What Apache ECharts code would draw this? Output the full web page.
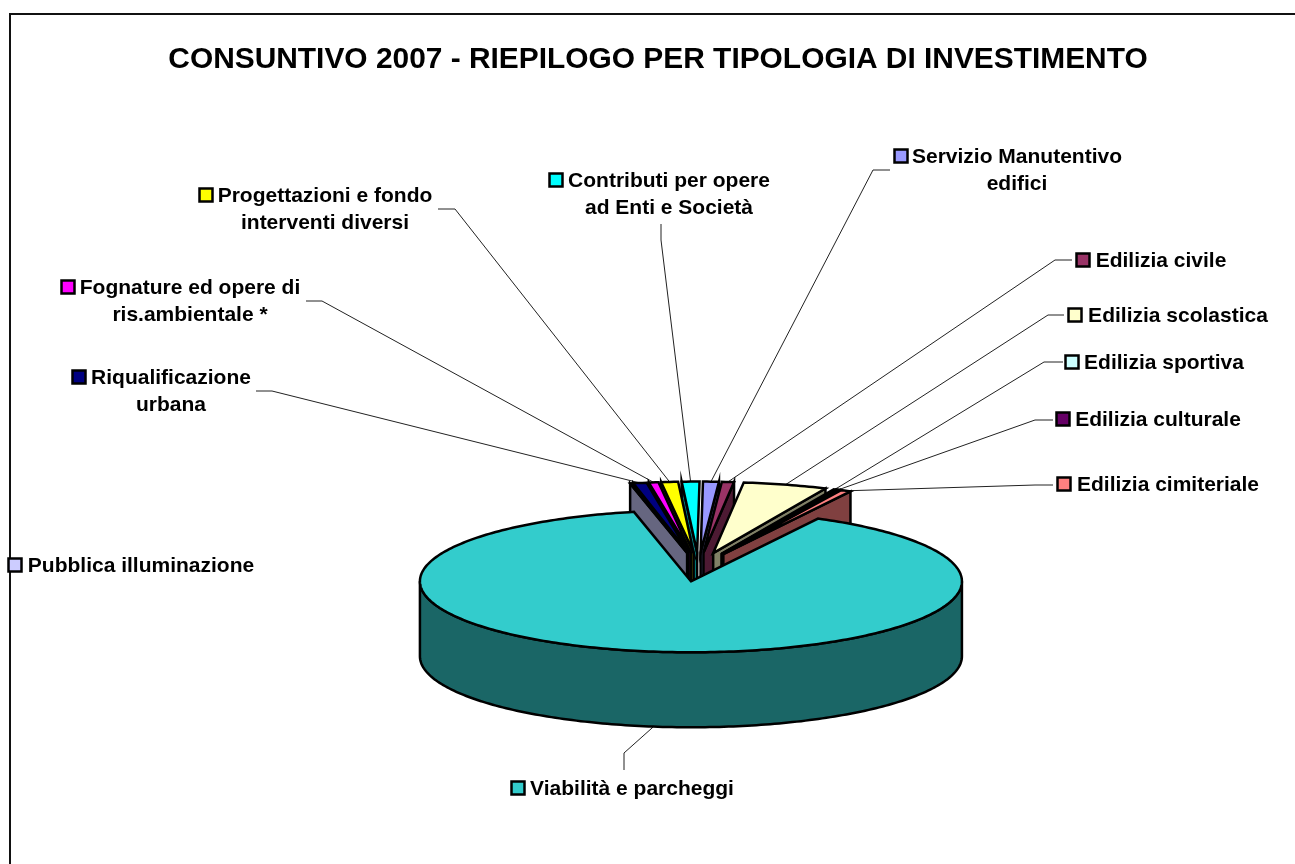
<!DOCTYPE html>
<html><head><meta charset="utf-8">
<style>html,body{margin:0;padding:0;background:#fff}#c{width:1295px;height:864px}</style>
<script src="https://cdn.jsdelivr.net/npm/echarts@6/dist/echarts.min.js"></script>
</head><body><div id="c"></div>
<script>
const titleText = 'CONSUNTIVO 2007 - RIEPILOGO PER TIPOLOGIA DI INVESTIMENTO';
// clockwise from just past 12 o'clock
const categories = ['Servizio Manutentivo\nedifici','Edilizia civile','Edilizia scolastica','Edilizia sportiva','Edilizia culturale','Edilizia cimiteriale','Viabilità e parcheggi','Pubblica illuminazione','Riqualificazione\nurbana','Fognature ed opere di\nris.ambientale *','Progettazioni e fondo\ninterventi diversi','Contributi per opere\nad Enti e Società'];
const values = [0.94,0.72,5.00,0.14,0.22,0.61,88.85,0.10,0.79,0.57,1.00,1.05];
const colors = ['#9999FF','#993366','#FFFFCC','#CCFFFF','#660066','#FF8080','#33CCCC','#CCCCFF','#000080','#FF00FF','#FFFF00','#00FFFF'];
// label layout: text centre x,y of first line, legend key centre x, leader elbow, leader end
const textX = [1017,1161,1178,1164,1158,1168,632,141,171,190,325,669];
const textY = [156,260,315,362,419,484,788,565,377,287,195,180];
const keyX = [901,1083,1075,1072,1063,1064,518,15,79,68,206,556];
const leaderElbow = [[873,170],[1055,260],[1048,315],[1044,362],[1035,420],[1035,485],[624,753],null,[272,391],[322,301],[455,209],[661,240]];
const leaderEnd = [[890,170],[1072,260],[1064,315],[1063,362],[1053,420],[1053,485],[624,770],null,[256,391],[306,301],[438,209],[661,224]];

const START = 0.5, BASE = {x:698.5,y:567}, RX = 271, RY = 71, DEPTH = 75, EXPLODE = 55, K = RY/RX;
const total = values.reduce((a,b)=>a+b,0);
const rad = d => d*Math.PI/180;
let acc = 0;
const slices = values.map((v,i)=>{
  const a0 = START+acc/total*360; acc += v; const a1 = START+acc/total*360; const mid=(a0+a1)/2;
  return {i,a0,a1,mid,cx:BASE.x+EXPLODE*Math.sin(rad(mid)),cy:BASE.y-EXPLODE*K*Math.cos(rad(mid))};
});
const rim = (s,a,drop)=>[s.cx+RX*Math.sin(rad(a)), s.cy-RY*Math.cos(rad(a))+(drop||0)];
const dark = hex => { const n=parseInt(hex.slice(1),16);
  return 'rgb('+[(n>>16)&255,(n>>8)&255,n&255].map(c=>Math.round(c/2)).join(',')+')'; };
const poly = (points,fill) => ({type:'polygon',shape:{points},style:{fill,stroke:'#000',lineWidth:2.5,lineJoin:'miter',miterLimit:12}});
function arc(s,a,b,drop){const n=Math.max(2,Math.ceil(Math.abs(b-a)));const p=[];for(let j=0;j<=n;j++)p.push(rim(s,a+(b-a)*j/n,drop));return p;}
// painter's order: slices nearest the back centre first, the large front slice last
const order = slices.slice().sort((p,q)=>Math.min(p.mid,360-p.mid)-Math.min(q.mid,360-q.mid)).map(s=>s.i);

function renderSlice(params){
  const s = slices[order[params.dataIndex]], col = colors[s.i], side = dark(col), kids = [];
  const apex=[s.cx,s.cy], apexLow=[s.cx,s.cy+DEPTH];
  if (s.a1-s.a0 < 180) {
    if (s.mid < 180) { const e=rim(s,s.a1); kids.push(poly([apex,e,[e[0],e[1]+DEPTH],apexLow],side)); }
    else { const e=rim(s,s.a0); kids.push(poly([apex,e,[e[0],e[1]+DEPTH],apexLow],side)); }
  } else {
    const top=arc(s,90,270,0), low=arc(s,270,90,DEPTH);
    kids.push(poly(top.concat(low),side));
  }
  kids.push(poly([apex].concat(arc(s,s.a0,s.a1,0)),col));
  return {type:'group',children:kids};
}
function renderLeader(params){
  const i=params.dataIndex, s=slices[i];
  if(!leaderElbow[i]) return {type:'group',children:[]};
  const a=rim(s,s.mid,Math.cos(rad(s.mid))<0?DEPTH:0);
  return {type:'polyline',shape:{points:[a,leaderElbow[i],leaderEnd[i]]},style:{fill:null,stroke:'#222',lineWidth:1}};
}
function renderLabel(params){
  const i=params.dataIndex;
  return {type:'group',children:[
    {type:'rect',shape:{x:keyX[i]-6.5,y:textY[i]-6.5,width:13,height:13},style:{fill:colors[i],stroke:'#000',lineWidth:2.5}},
    {type:'text',style:{x:textX[i],y:textY[i]-12.5,text:categories[i],textAlign:'center',textVerticalAlign:'top',fill:'#000',font:'bold 21px "Liberation Sans"',lineHeight:27}}
  ]};
}
const chart = echarts.init(document.getElementById('c'),null,{renderer:'canvas'});
chart.setOption({
  animation:false,backgroundColor:'#fff',
  title:{text:titleText,left:653,top:40,textAlign:'center',textStyle:{fontFamily:'Liberation Sans',fontWeight:'bold',fontSize:29.9,color:'#000'}},
  graphic:[{type:'rect',z:-1,shape:{x:10,y:14,width:1400,height:1000},style:{fill:'none',stroke:'#111',lineWidth:2}}],
  series:[
    {type:'custom',coordinateSystem:'none',z:1,silent:true,data:values.map((v,i)=>[i,v]),renderItem:renderLeader},
    {type:'custom',coordinateSystem:'none',z:2,silent:true,data:order.map(i=>[i,values[i]]),renderItem:renderSlice},
    {type:'custom',coordinateSystem:'none',z:3,silent:true,data:categories.map((c,i)=>[i]),renderItem:renderLabel}
  ]
});
</script></body></html>
